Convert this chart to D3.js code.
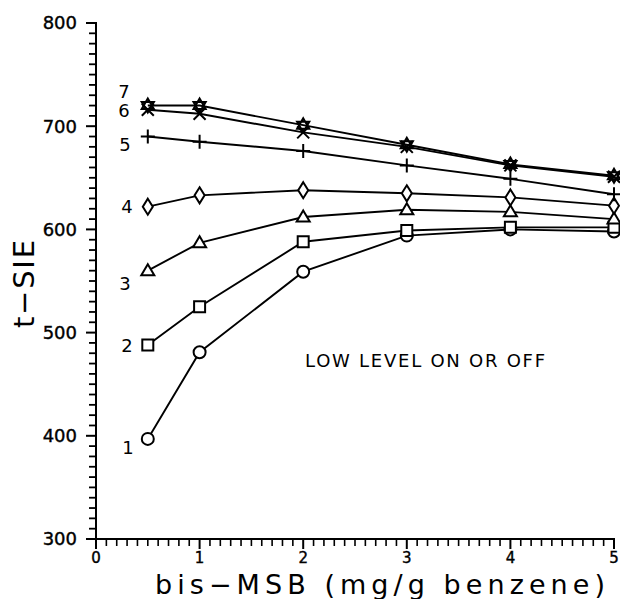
<!DOCTYPE html>
<html>
<head>
<meta charset="utf-8">
<script src="https://cdn.jsdelivr.net/npm/d3@7"></script>
<style>
  body { margin: 0; background: #fff; }
  text { font-family: "DejaVu Sans", "Liberation Sans", sans-serif; fill: #000; }
</style>
</head>
<body>
<div id="root"></div>
<script>
// bis-MSB concentration (mg/g benzene)
const conc = [0.5, 1, 2, 3, 4, 5];

// t-SIE values per curve
const curve1 = [397, 481, 559, 594, 600, 598];
const curve2 = [488, 525, 588, 599, 602, 602];
const curve3 = [560, 587, 612, 619, 617, 610];
const curve4 = [622, 633, 638, 635, 631, 623];
const curve5 = [690, 685, 676, 662, 649, 634];
const curve6 = [716, 712, 694, 680, 662, 651];
const curve7 = [720, 720, 701, 682, 663, 652];

const curveNames = ["1", "2", "3", "4", "5", "6", "7"];
const curveMarkers = ["circle", "square", "triangle", "diamond", "plus", "cross", "star"];
const xTicks = [0, 1, 2, 3, 4, 5];
const yTicks = [300, 400, 500, 600, 700, 800];

const series = [curve1, curve2, curve3, curve4, curve5, curve6, curve7].map((vals, i) => ({
  name: curveNames[i],
  marker: curveMarkers[i],
  points: vals.map((v, j) => ({ x: conc[j], y: v }))
}));

// label nudges (px) from the first point of each curve
const labelDx = [-14, -15, -17, -15, -17, -18, -18];
const labelDy = [15, 7, 19, 6, 14, 7, -8];

const width = 620, height = 599;

const x = d3.scaleLinear().domain([0, 5]).range([96, 614]);
const y = d3.scaleLinear().domain([300, 800]).range([539, 23]);

const svg = d3.select("#root")
  .append("svg")
    .attr("width", width)
    .attr("height", height);

// ---- axes ----
const axisG = svg.append("g").attr("stroke", "#000").attr("stroke-width", 2);

axisG.append("line")
  .attr("x1", x(0)).attr("x2", x(0))
  .attr("y1", y(800) - 1).attr("y2", y(300) + 1);
axisG.append("line")
  .attr("x1", x(0)).attr("x2", x(5) + 1)
  .attr("y1", y(300)).attr("y2", y(300));

// y ticks every 10, majors every 100
d3.range(300, 801, 10).forEach(v => {
  const major = v % 100 === 0;
  axisG.append("line")
    .attr("x1", x(0) - (major ? 10 : 7)).attr("x2", x(0))
    .attr("y1", y(v)).attr("y2", y(v))
    .attr("stroke-width", major ? 2 : 1.8);
});

// x ticks every 0.1, majors every 1
d3.range(0, 51).forEach(k => {
  const v = k / 10;
  const major = k % 10 === 0;
  axisG.append("line")
    .attr("x1", x(v)).attr("x2", x(v))
    .attr("y1", y(300)).attr("y2", y(300) + (major ? 10 : 7))
    .attr("stroke-width", major ? 2 : 1.6);
});

svg.append("g").selectAll("text")
  .data(yTicks)
  .join("text")
    .attr("x", x(0) - 19)
    .attr("y", d => y(d))
    .attr("dy", "0.36em")
    .attr("text-anchor", "end")
    .attr("font-size", 18)
    .attr("stroke", "#000").attr("stroke-width", 0.4)
    .text(d => d);

svg.append("g").selectAll("text")
  .data(xTicks)
  .join("text")
    .attr("x", d => x(d))
    .attr("y", y(300) + 24)
    .attr("text-anchor", "middle")
    .attr("font-size", 15)
    .attr("stroke", "#000").attr("stroke-width", 0.4)
    .text(d => d);

// axis titles
svg.append("text")
  .attr("x", 155)
  .attr("y", 594)
  .attr("font-size", 27)
  .attr("textLength", 450)
  .attr("lengthAdjust", "spacing")
  .text("bis\u2212MSB (mg/g benzene)");

svg.append("text")
  .attr("transform", "translate(34, 284) rotate(-90)")
  .attr("text-anchor", "middle")
  .attr("font-size", 29)
  .attr("textLength", 88)
  .attr("lengthAdjust", "spacing")
  .text("t\u2212SIE");

svg.append("text")
  .attr("x", 305)
  .attr("y", 367)
  .attr("font-size", 18)
  .attr("textLength", 240)
  .attr("lengthAdjust", "spacing")
  .text("LOW LEVEL ON OR OFF");

// ---- curves ----
const line = d3.line().x(d => x(d.x)).y(d => y(d.y));

svg.append("g")
    .attr("fill", "none")
    .attr("stroke", "#000")
    .attr("stroke-width", 1.9)
  .selectAll("path")
  .data(series)
  .join("path")
    .attr("d", d => line(d.points));

const markerPath = type => {
  switch (type) {
    case "circle": return d3.symbol(d3.symbolCircle, 113)();
    case "square": return "M-5.5,-5.5H5.5V5.5H-5.5Z";
    case "triangle": return "M0,-6.5L6.5,4.5H-6.5Z";
    case "diamond": return "M0,-8L5,0L0,8L-5,0Z";
    case "plus": return "M-7,0H7M0,-7V7";
    case "cross": return "M-6,-6L6,6M-6,6L6,-6";
    case "star": return "M0,-7L6.1,3.5H-6.1ZM0,7L6.1,-3.5H-6.1Z";
  }
};

const markerG = svg.append("g")
  .selectAll("g")
  .data(series)
  .join("g");

markerG.selectAll("path")
  .data(d => d.points.map(p => ({ ...p, marker: d.marker })))
  .join("path")
    .attr("transform", d => `translate(${x(d.x)}, ${y(d.y)})`)
    .attr("d", d => markerPath(d.marker))
    .attr("fill", d => d.marker === "star" ? "#000" : "#fff")
    .attr("fill-opacity", d => d.marker === "star" ? 0.6 : 1)
    .attr("stroke", "#000")
    .attr("stroke-width", 2);

// curve numbers
svg.append("g").selectAll("text")
  .data(series)
  .join("text")
    .attr("x", (d, i) => x(d.points[0].x) + labelDx[i])
    .attr("y", (d, i) => y(d.points[0].y) + labelDy[i])
    .attr("text-anchor", "end")
    .attr("font-size", 18)
    .text(d => d.name);
</script>
</body>
</html>
